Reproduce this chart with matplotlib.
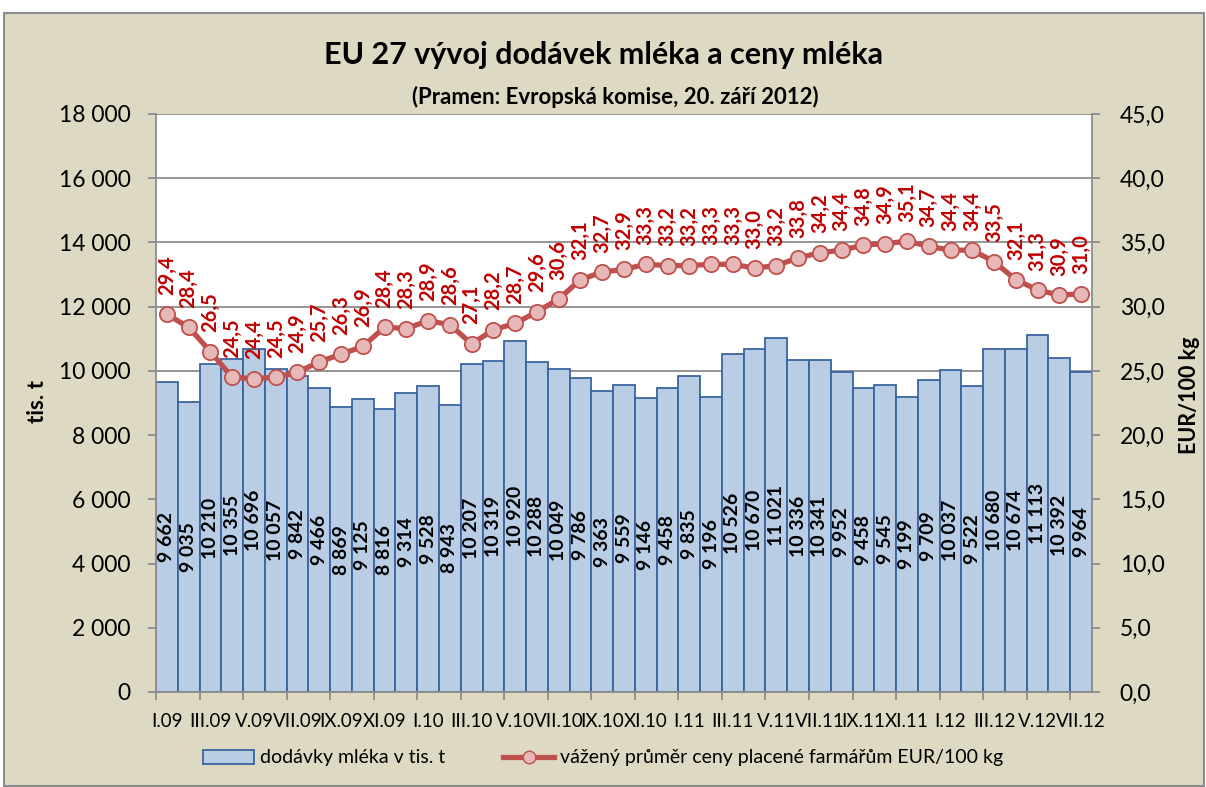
import matplotlib
matplotlib.use("Agg")
import matplotlib.pyplot as plt
import numpy as np
from matplotlib.patches import Rectangle
from matplotlib.lines import Line2D
from matplotlib.patches import Patch

plt.rcParams['font.family'] = ['Lato', 'DejaVu Sans']

months = ["I", "II", "III", "IV", "V", "VI", "VII", "VIII", "IX", "X", "XI", "XII"]
years = ["09", "10", "11", "12"]
categories = [f"{m}.{y}" for y in years for m in months][:43]

supplies = [9662, 9035, 10210, 10355, 10696, 10057, 9842, 9466, 8869, 9125, 8816, 9314,
            9528, 8943, 10207, 10319, 10920, 10288, 10049, 9786, 9363, 9559, 9146, 9458,
            9835, 9196, 10526, 10670, 11021, 10336, 10341, 9952, 9458, 9545, 9199, 9709,
            10037, 9522, 10680, 10674, 11113, 10392, 9964]
prices = [29.4, 28.4, 26.5, 24.5, 24.4, 24.5, 24.9, 25.7, 26.3, 26.9, 28.4, 28.3,
          28.9, 28.6, 27.1, 28.2, 28.7, 29.6, 30.6, 32.1, 32.7, 32.9, 33.3, 33.2,
          33.2, 33.3, 33.3, 33.0, 33.2, 33.8, 34.2, 34.4, 34.8, 34.9, 35.1, 34.7,
          34.4, 34.4, 33.5, 32.1, 31.3, 30.9, 31.0]

title = "EU 27 vývoj dodávek mléka a ceny mléka"
subtitle = "(Pramen: Evropská komise, 20. září 2012)"
left_label = "tis. t"
right_label = "EUR/100 kg"
bar_label = "dodávky mléka v tis. t"
line_label = "vážený průměr ceny placené farmářům EUR/100 kg"

W, H = 1206, 787
fig = plt.figure(figsize=(W/100, H/100), dpi=100)
bg = '#DDD9C3'
fig.patch.set_facecolor('white')
fig.add_artist(Rectangle((4/W, 1/H), (W-6)/W, (H-14)/H, transform=fig.transFigure,
                         facecolor=bg, edgecolor='#8C8C8C', linewidth=1.5, zorder=-10))

left, right, top, bottom = 156, 1092, 114, 692
ax = fig.add_axes([left/W, 1-bottom/H, (right-left)/W, (bottom-top)/H])
ax.set_facecolor('white')
x = np.arange(len(categories))
ax.bar(x, supplies, width=1.0, color='#B9CDE5', edgecolor='#3A64A0', linewidth=1.3, zorder=2)
ax.set_xlim(-0.5, len(categories)-0.5)
ax.set_ylim(0, 18000)
ax.set_yticks(np.arange(0, 18001, 2000))
ax.set_yticklabels([f"{v:,}".replace(",", " ") for v in range(0, 18001, 2000)], fontsize=16.5)
ax.yaxis.grid(True, color='#8C8C8C', linewidth=1.3, zorder=0)
ax.set_axisbelow(True)
for s in ['top', 'right']:
    ax.spines[s].set_visible(False)
for s in ['bottom', 'left']:
    ax.spines[s].set_color('#8C8C8C')
    ax.spines[s].set_linewidth(1.3)
ax.tick_params(axis='y', length=6, width=1.3, color='#8C8C8C', pad=12)
ax.set_xticks(x[::2])
ax.set_xticklabels(categories[::2], fontsize=13.5)
ax.tick_params(axis='x', length=0, pad=15)
ax.set_xticks(np.arange(-0.5, len(categories), 2), minor=True)
ax.tick_params(axis='x', which='minor', length=6, width=1.3, color='#8C8C8C')

for xi, v in zip(x, supplies):
    ax.text(xi, v/2, f"{v:,}".replace(",", " "), rotation=90, ha='center', va='center',
            fontsize=14, fontweight='bold', color='black', zorder=5)

ax2 = ax.twinx()
ax2.set_ylim(0, 45)
ax2.set_yticks(np.arange(0, 45.1, 5))
ax2.set_yticklabels([f"{v:.1f}".replace(".", ",") for v in np.arange(0, 45.1, 5)], fontsize=16.5)
for s in ['top', 'left', 'bottom']:
    ax2.spines[s].set_visible(False)
ax2.spines['right'].set_color('#8C8C8C')
ax2.spines['right'].set_linewidth(1.3)
ax2.tick_params(axis='y', length=6, width=1.3, color='#8C8C8C', pad=14)
ax2.plot(x, prices, color='#C0504D', linewidth=3.8, marker='o', markersize=11,
         markerfacecolor='#E6B9B8', markeredgecolor='#C0504D', markeredgewidth=1.3, zorder=4)
for xi, v in zip(x, prices):
    ax2.annotate(f"{v:.1f}".replace(".", ","), (xi, v), xytext=(0, 14), textcoords='offset points',
                 rotation=90, ha='center', va='bottom', fontsize=14.5, fontweight='bold',
                 color='#C00000', zorder=6)

fig.text(37/W, 1-402/H, left_label, rotation=90, ha='center', va='center', fontsize=16, fontweight='bold')
fig.text(1190/W, 1-395/H, right_label, rotation=90, ha='center', va='center', fontsize=15.5, fontweight='bold')

fig.text(0.5, 1-55/H, title, ha='center', va='center', fontsize=22, fontweight='bold')
fig.text(0.51, 1-97/H, subtitle, ha='center', va='center', fontsize=16, fontweight='bold')

handles = [Patch(facecolor='#B9CDE5', edgecolor='#3A64A0', linewidth=1.3, label=bar_label),
           Line2D([0], [0], color='#C0504D', linewidth=3.8, marker='o', markersize=9,
                  markerfacecolor='#E6B9B8', markeredgecolor='#C0504D', label=line_label)]
fig.legend(handles=handles, loc='center', bbox_to_anchor=(0.5, 1-758/H), ncol=2, frameon=False,
           fontsize=14, handlelength=2.6, columnspacing=3.0, handletextpad=0.3)

fig.savefig("out.png", dpi=100, facecolor=fig.get_facecolor())
